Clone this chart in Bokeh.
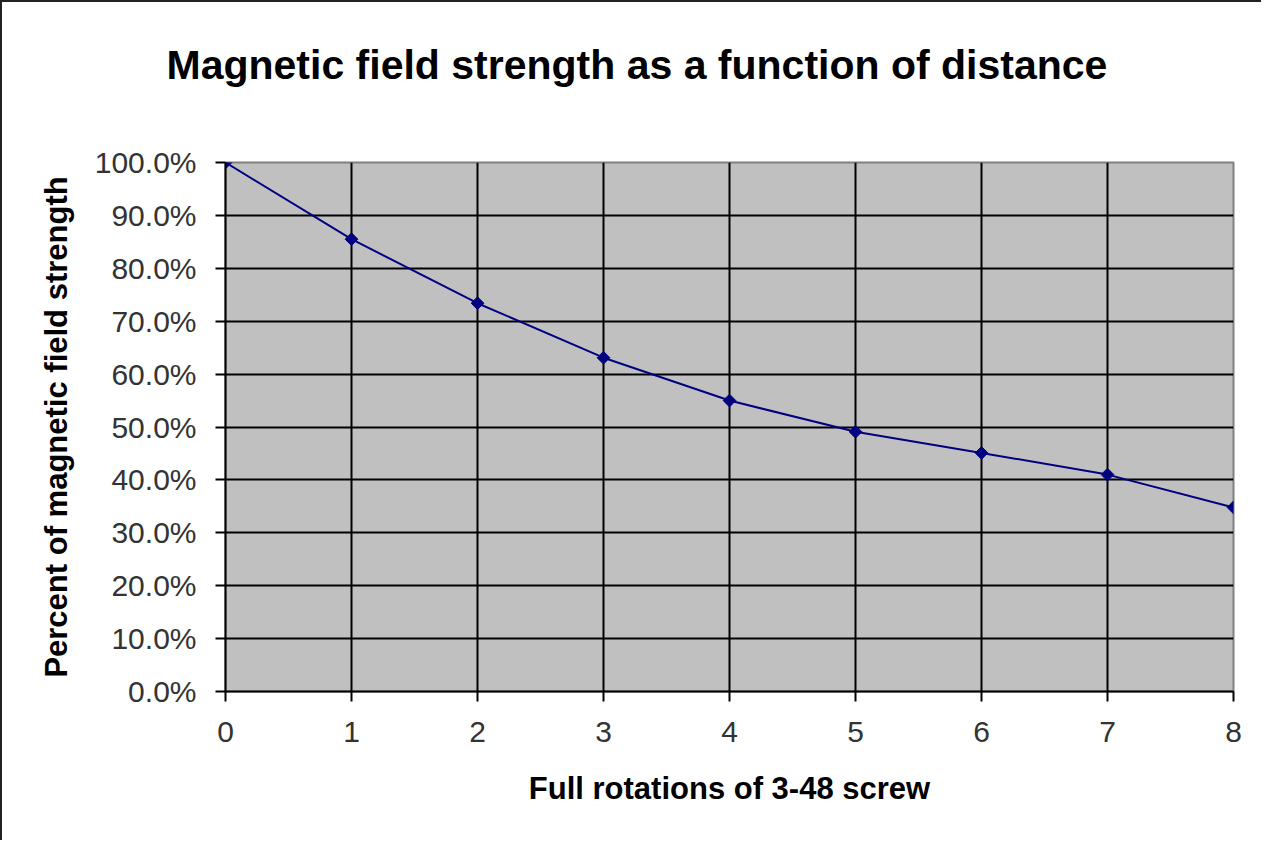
import math
from bokeh.plotting import figure
from bokeh.models import NumeralTickFormatter, FixedTicker, Range1d, Title
from bokeh.embed import file_html
from bokeh.resources import INLINE

rotations = [0, 1, 2, 3, 4, 5, 6, 7, 8]
strength = [1.000, 0.855, 0.734, 0.631, 0.550, 0.491, 0.451, 0.410, 0.348]
y_ticks = [i / 10 for i in range(11)]
x_ticks = list(range(9))
title_text = "Magnetic field strength as a function of distance"

FONT = "Liberation Sans"

p = figure(width=1261, height=840, output_backend="svg", toolbar_location=None,
           x_range=Range1d(0, 8), y_range=Range1d(0, 1))
p.title = None
p.min_border_left = 223
p.min_border_right = 30
p.min_border_top = 160
p.min_border_bottom = 151

# spacer between the frame and the title
p.add_layout(Title(text=" ", text_font_size="1px", standoff=67), "above")
p.add_layout(Title(text=title_text, text_font=FONT, text_font_size="41px",
                   text_font_style="bold", align="left", offset=-59,
                   standoff=10, text_color="black"), "above")

p.background_fill_color = "#C0C0C0"
p.border_fill_color = "white"
p.outline_line_color = "#808080"
p.outline_line_width = 2

for ax in (p.xaxis[0], p.yaxis[0]):
    ax.axis_line_color = "black"
    ax.axis_line_width = 2
    ax.major_tick_line_color = "black"
    ax.major_tick_line_width = 2
    ax.major_tick_out = 10
    ax.major_tick_in = 0
    ax.minor_tick_line_color = None
    ax.major_label_text_font = FONT
    ax.major_label_text_font_size = "30px"
    ax.major_label_text_color = "#333333"
    ax.axis_label_text_font = FONT
    ax.axis_label_text_font_size = "31px"
    ax.axis_label_text_font_style = "bold"
    ax.axis_label_text_color = "black"

p.xaxis.ticker = FixedTicker(ticks=x_ticks)
p.yaxis.ticker = FixedTicker(ticks=y_ticks)
p.yaxis.formatter = NumeralTickFormatter(format="0.0%")
p.xaxis.axis_label = "Full rotations of 3-48 screw"
p.yaxis.axis_label = "Percent of magnetic field strength"
p.xaxis.major_label_standoff = 20
p.yaxis.major_label_standoff = 19
p.xaxis.axis_label_standoff = 26
p.yaxis.axis_label_standoff = 18

p.xgrid.grid_line_color = "black"
p.ygrid.grid_line_color = "black"
p.xgrid.grid_line_width = 2
p.ygrid.grid_line_width = 2
p.xgrid.ticker = FixedTicker(ticks=x_ticks)
p.ygrid.ticker = FixedTicker(ticks=y_ticks)

p.line(rotations, strength, line_color="#000080", line_width=2)
p.scatter(rotations, strength, marker="square", size=9, angle=math.pi / 4,
          fill_color="#000080", line_color="#000080")

p.styles = {"border-left": "2px solid #222", "border-top": "2px solid #222"}

open("out.html", "w").write(file_html(p, INLINE))
